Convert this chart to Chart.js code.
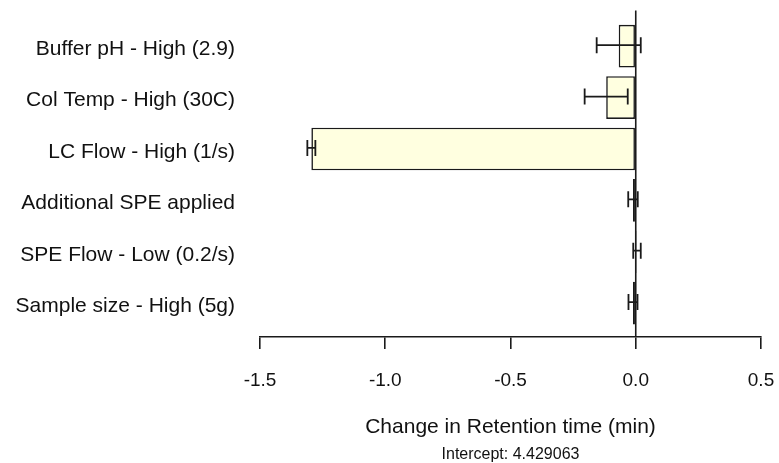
<!DOCTYPE html>
<html>
<head>
<meta charset="utf-8">
<script src="https://cdn.jsdelivr.net/npm/chart.js@4.4.0/dist/chart.umd.min.js"></script>
<style>
  html, body { margin: 0; padding: 0; background: #ffffff; }
  #wrap { width: 779px; height: 463px; }
</style>
</head>
<body>
<div id="wrap"><canvas id="c" width="779" height="463"></canvas></div>
<script>
const categories = [
  'Buffer pH - High (2.9)',
  'Col Temp - High (30C)',
  'LC Flow - High (1/s)',
  'Additional SPE applied',
  'SPE Flow - Low (0.2/s)',
  'Sample size - High (5g)'
];
const effects = [-0.068, -0.118, -1.295, -0.011, 0.005, -0.011];
const errors = [0.088, 0.086, 0.016, 0.019, 0.015, 0.018];
const xTickValues = [-1.5, -1.0, -0.5, 0.0, 0.5];
const xTitle = 'Change in Retention time (min)';
const interceptText = 'Intercept: 4.429063';

const FONT = "'Liberation Sans', Arial, sans-serif";
const INK = '#1a1a1a';
const TEXT = '#111111';

const points = effects.map((v, i) => ({ x: v, y: i }));

const extrasPlugin = {
  id: 'extras',
  afterDatasetsDraw(chart) {
    const { ctx, chartArea, scales } = chart;
    const xs = scales.x, ys = scales.y;
    ctx.save();
    ctx.strokeStyle = INK;
    ctx.lineWidth = 1.6;
    // zero reference line
    const x0 = xs.getPixelForValue(0);
    ctx.beginPath();
    ctx.moveTo(x0, chartArea.top - 10);
    ctx.lineTo(x0, chartArea.bottom);
    ctx.stroke();
    // error bars
    ctx.lineWidth = 1.8;
    effects.forEach((v, i) => {
      const y = ys.getPixelForValue(i) - 1;
      const xa = xs.getPixelForValue(v - errors[i]);
      const xb = xs.getPixelForValue(v + errors[i]);
      const h = 8;
      ctx.beginPath();
      ctx.moveTo(xa, y); ctx.lineTo(xb, y);
      ctx.moveTo(xa, y - h); ctx.lineTo(xa, y + h);
      ctx.moveTo(xb, y - h); ctx.lineTo(xb, y + h);
      ctx.stroke();
    });
    // intercept note, centred under the plot
    ctx.fillStyle = TEXT;
    ctx.font = "16px " + FONT;
    ctx.textAlign = 'center';
    ctx.textBaseline = 'alphabetic';
    ctx.fillText(interceptText, (chartArea.left + chartArea.right) / 2, xs.bottom - 4);
    ctx.restore();
  }
};

new Chart(document.getElementById('c'), {
  type: 'bar',
  data: {
    datasets: [{
      data: points,
      backgroundColor: '#FFFFE0',
      borderColor: INK,
      borderWidth: 1.6,
      borderSkipped: false,
      barPercentage: 0.83,
      categoryPercentage: 1.0
    }]
  },
  options: {
    indexAxis: 'y',
    responsive: false,
    animation: false,
    devicePixelRatio: 1,
    layout: { padding: { top: 20.5, right: 18, bottom: 0, left: 0 } },
    plugins: {
      legend: { display: false },
      tooltip: { enabled: false }
    },
    scales: {
      x: {
        type: 'linear',
        position: 'bottom',
        min: -1.5,
        max: 0.5,
        afterBuildTicks(scale) { scale.ticks = xTickValues.map(v => ({ value: v })); },
        afterFit(scale) {
          scale.height = 126;
          scale.paddingLeft = 0;
          scale.paddingRight = 0;
        },
        ticks: {
          color: TEXT,
          padding: 20,
          maxRotation: 0,
          font: { family: FONT, size: 19 },
          callback: (v) => Number(v).toFixed(1)
        },
        grid: {
          drawOnChartArea: false,
          drawTicks: true,
          tickLength: 12,
          color: INK,
          lineWidth: 1.6
        },
        border: { display: true, color: INK, width: 1.6 },
        title: {
          display: true,
          text: xTitle,
          color: TEXT,
          font: { family: FONT, size: 21 },
          padding: { top: 0, bottom: 22.7 }
        }
      },
      y: {
        type: 'linear',
        reverse: true,
        offset: false,
        min: -0.5,
        max: 5.66,
        afterBuildTicks(scale) { scale.ticks = categories.map((c, i) => ({ value: i })); },
        afterFit(scale) {
          scale.width = 260;
          scale.paddingTop = 0;
          scale.paddingBottom = 0;
        },
        ticks: {
          color: TEXT,
          padding: 25,
          labelOffset: 3,
          font: { family: FONT, size: 21 },
          callback: (v) => categories[v] !== undefined ? categories[v] : ''
        },
        grid: { display: false, drawTicks: false, offset: false },
        border: { display: false }
      }
    }
  },
  plugins: [extrasPlugin]
});
</script>
</body>
</html>
